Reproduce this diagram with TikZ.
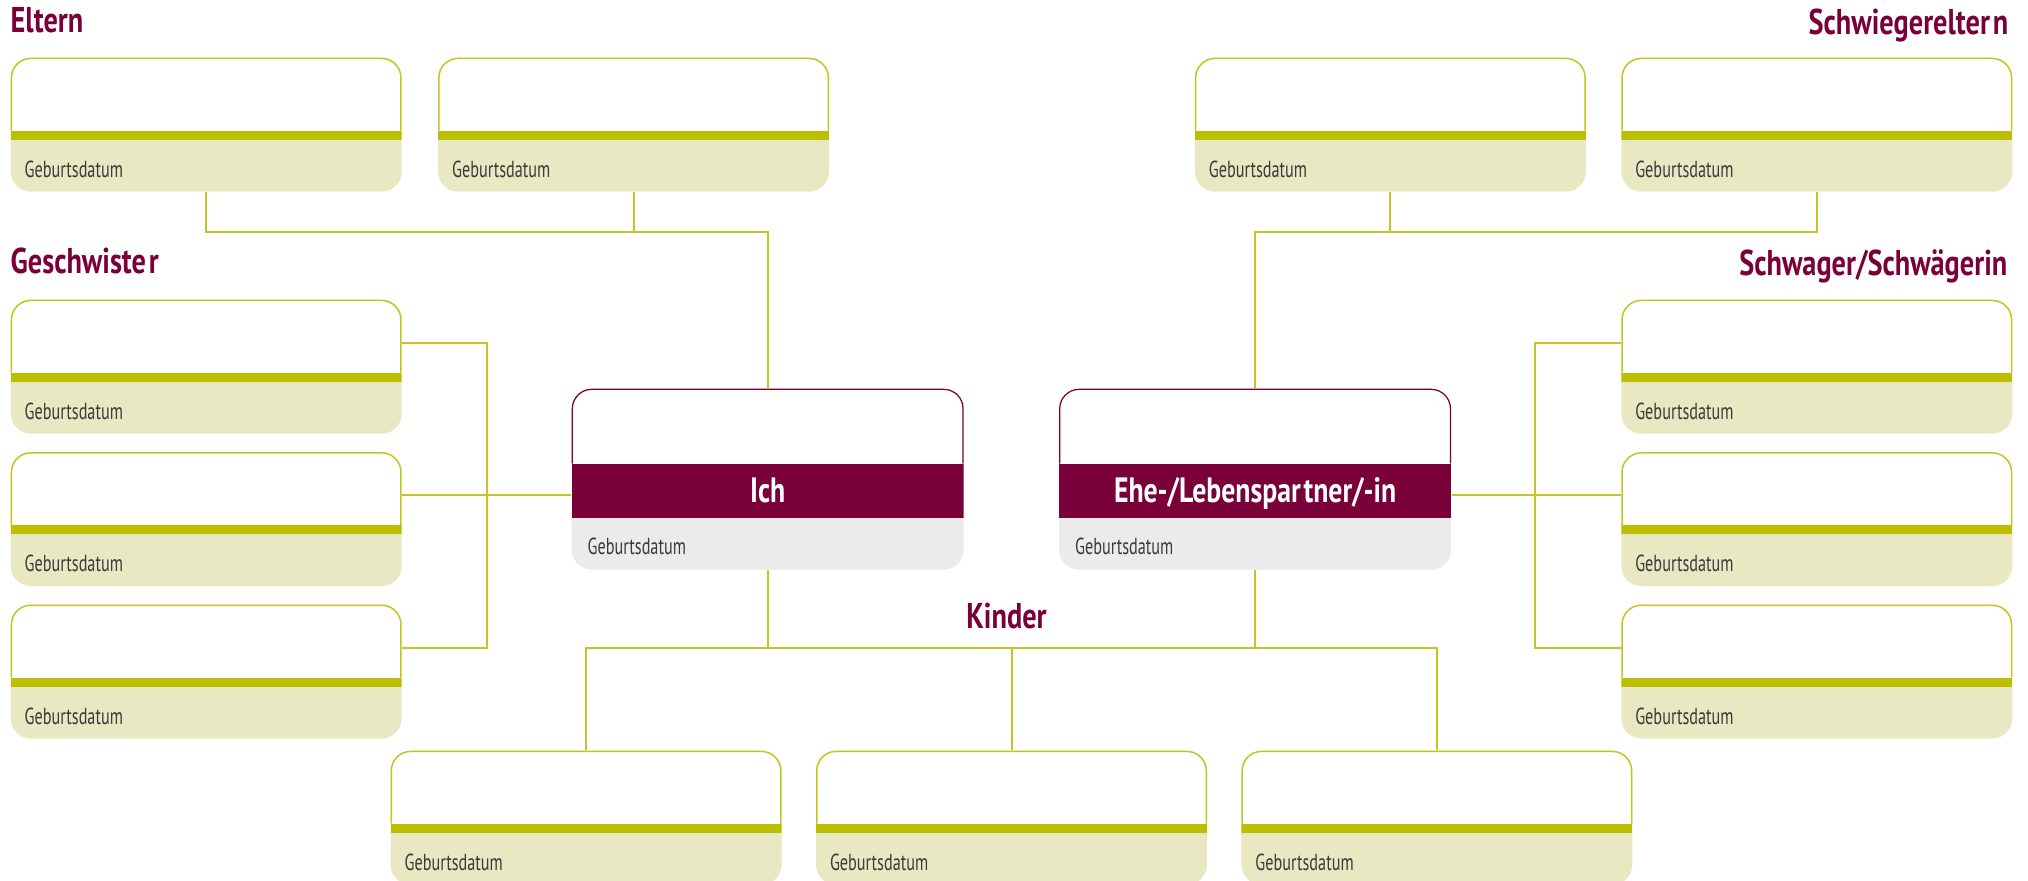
\documentclass[tikz,border=0pt]{standalone}
\usepackage{fontspec}
\setmainfont{PT Sans}[UprightFeatures={FakeStretch=0.70}, BoldFeatures={FakeStretch=0.79}]
\usepackage{tikz}
\usetikzlibrary{positioning, calc}

\definecolor{famred}{HTML}{7A0039}
\definecolor{famlime}{HTML}{BEBE00}
\definecolor{famline}{HTML}{C4C422}
\definecolor{famlight}{HTML}{E8E9C3}
\definecolor{famgrey}{HTML}{EBEBEB}
\definecolor{famtext}{HTML}{3A3A3A}

\tikzset{
    person/.style={
        rectangle, rounded corners=0.2cm, inner sep=0pt,
        minimum width=3.91cm, minimum height=1.34cm, fill=famlight,
        path picture={
            \fill[white, sharp corners] (path picture bounding box.north west) rectangle ([yshift=-0.73cm]path picture bounding box.north east);
            \fill[famlime, sharp corners] ([yshift=-0.73cm]path picture bounding box.north west) rectangle ([yshift=-0.82cm]path picture bounding box.north east);
            \draw[famline, line width=0.03cm, rounded corners=0.2cm] ([yshift=-0.73cm]path picture bounding box.north west) -- (path picture bounding box.north west) -- (path picture bounding box.north east) -- ([yshift=-0.73cm]path picture bounding box.north east);
        }
    },
    centre/.style={
        rectangle, rounded corners=0.2cm, inner sep=0pt,
        minimum width=3.92cm, minimum height=1.81cm, fill=famgrey,
        path picture={
            \fill[white, sharp corners] (path picture bounding box.north west) rectangle ([yshift=-0.75cm]path picture bounding box.north east);
            \fill[famred, sharp corners] ([yshift=-0.75cm]path picture bounding box.north west) rectangle ([yshift=-1.29cm]path picture bounding box.north east);
            \draw[famred, line width=0.025cm, rounded corners=0.2cm] ([yshift=-0.75cm]path picture bounding box.north west) -- (path picture bounding box.north west) -- (path picture bounding box.north east) -- ([yshift=-0.75cm]path picture bounding box.north east);
        }
    },
    datetext/.style={
        anchor=base west, inner sep=0pt, text=famtext,
        font=\fontsize{6.6}{8}\selectfont
    },
    title/.style={
        inner sep=0pt, text=famred,
        font=\bfseries\fontsize{10.2}{12}\selectfont
    },
    bandtext/.style={
        anchor=base, inner sep=0pt, text=white,
        font=\bfseries\fontsize{10}{12}\selectfont
    },
    link/.style={
        draw=famline, line width=0.02cm
    }
}

\begin{document}
\begin{tikzpicture}

	\useasboundingbox (0,0) rectangle (20.28,-8.81);

	% NODES
	\node (ich) [centre, anchor=north west] at (5.71,-3.88) {};
	\node (partner) [centre, right=0.94cm of ich] {};

	\node (e1) [person, anchor=north west] at (0.10,-0.57) {};
	\node (e2) [person, right=0.35cm of e1] {};
	\node (s2) [person, anchor=north east] at (20.13,-0.57) {};
	\node (s1) [person, left=0.34cm of s2] {};

	\node (g1) [person, anchor=north west] at (0.10,-2.99) {};
	\node (g2) [person, below=0.17cm of g1] {};
	\node (g3) [person, below=0.17cm of g2] {};
	\node (w1) [person, anchor=north east] at (20.13,-2.99) {};
	\node (w2) [person, below=0.17cm of w1] {};
	\node (w3) [person, below=0.17cm of w2] {};

	\node (k2) [person, anchor=north] at (10.115,-7.50) {};
	\node (k1) [person, left=0.33cm of k2] {};
	\node (k3) [person, right=0.33cm of k2] {};

	% TEXTS
	\node (ich-name) [bandtext] at ([yshift=-1.15cm]ich.north) {Ich};
	\node (partner-name) [bandtext] at ([yshift=-1.15cm]partner.north) {Ehe-/Lebenspar\kern0.08em tner/-in};
	\foreach \p in {e1,e2,s1,s2,g1,g2,g3,w1,w2,w3,k1,k2,k3}
		\node (\p-date) [datetext] at ([shift={(0.14cm,0.15cm)}]\p.south west) {Geburtsdatum};
	\foreach \p in {ich,partner}
		\node (\p-date) [datetext] at ([shift={(0.16cm,0.16cm)}]\p.south west) {Geburtsdatum};

	% TITLES
	\node (t-eltern) [title, anchor=base west] at ([yshift=0.24cm]e1.north west) {Eltern};
	\node (t-schwiegereltern) [title, anchor=base east] at ([shift={(-0.04cm,0.22cm)}]s2.north east) {Schwiegerelter\kern0.08em n};
	\node (t-geschwister) [title, anchor=base west] at ([yshift=0.25cm]g1.north west) {Geschwiste\kern0.08em r};
	\node (t-schwager) [title, anchor=base east] at ([shift={(-0.05cm,0.23cm)}]w1.north east) {Schwager/Schwägerin};
	\node (t-kinder) [title, anchor=base] at ([shift={(-0.05cm,1.21cm)}]k2.north) {Kinder};

	% CONNECTORS
	\coordinate (eltern-bus) at (0,-2.32);
	\coordinate (kinder-bus) at (0,-6.48);
	\coordinate (gesch-bus) at (4.87,0);
	\coordinate (schwager-bus) at (15.35,0);
	\foreach \i in {1,2,3} {
		\coordinate (g\i-arm) at ([yshift=-0.44cm]g\i.north east);
		\coordinate (w\i-arm) at ([yshift=-0.44cm]w\i.north west);
	}

	\draw[link] (e1.south) |- (ich.north |- eltern-bus) -- (ich.north);
	\draw[link] (e2.south) -- (e2.south |- eltern-bus);
	\draw[link] (s2.south) |- (partner.north |- eltern-bus) -- (partner.north);
	\draw[link] (s1.south) -- (s1.south |- eltern-bus);

	\draw[link] (g1-arm) -| (gesch-bus |- g3-arm) -- (g3-arm);
	\draw[link] (g2-arm) -- (g2-arm -| ich.west);
	\draw[link] (w1-arm) -| (schwager-bus |- w3-arm) -- (w3-arm);
	\draw[link] (w2-arm) -- (w2-arm -| partner.east);

	\draw[link] (ich.south) -- (ich.south |- kinder-bus);
	\draw[link] (partner.south) -- (partner.south |- kinder-bus);
	\draw[link] (k1.north) |- (k3.north |- kinder-bus) -- (k3.north);
	\draw[link] (k2.north) -- (k2.north |- kinder-bus);

\end{tikzpicture}
\end{document}
